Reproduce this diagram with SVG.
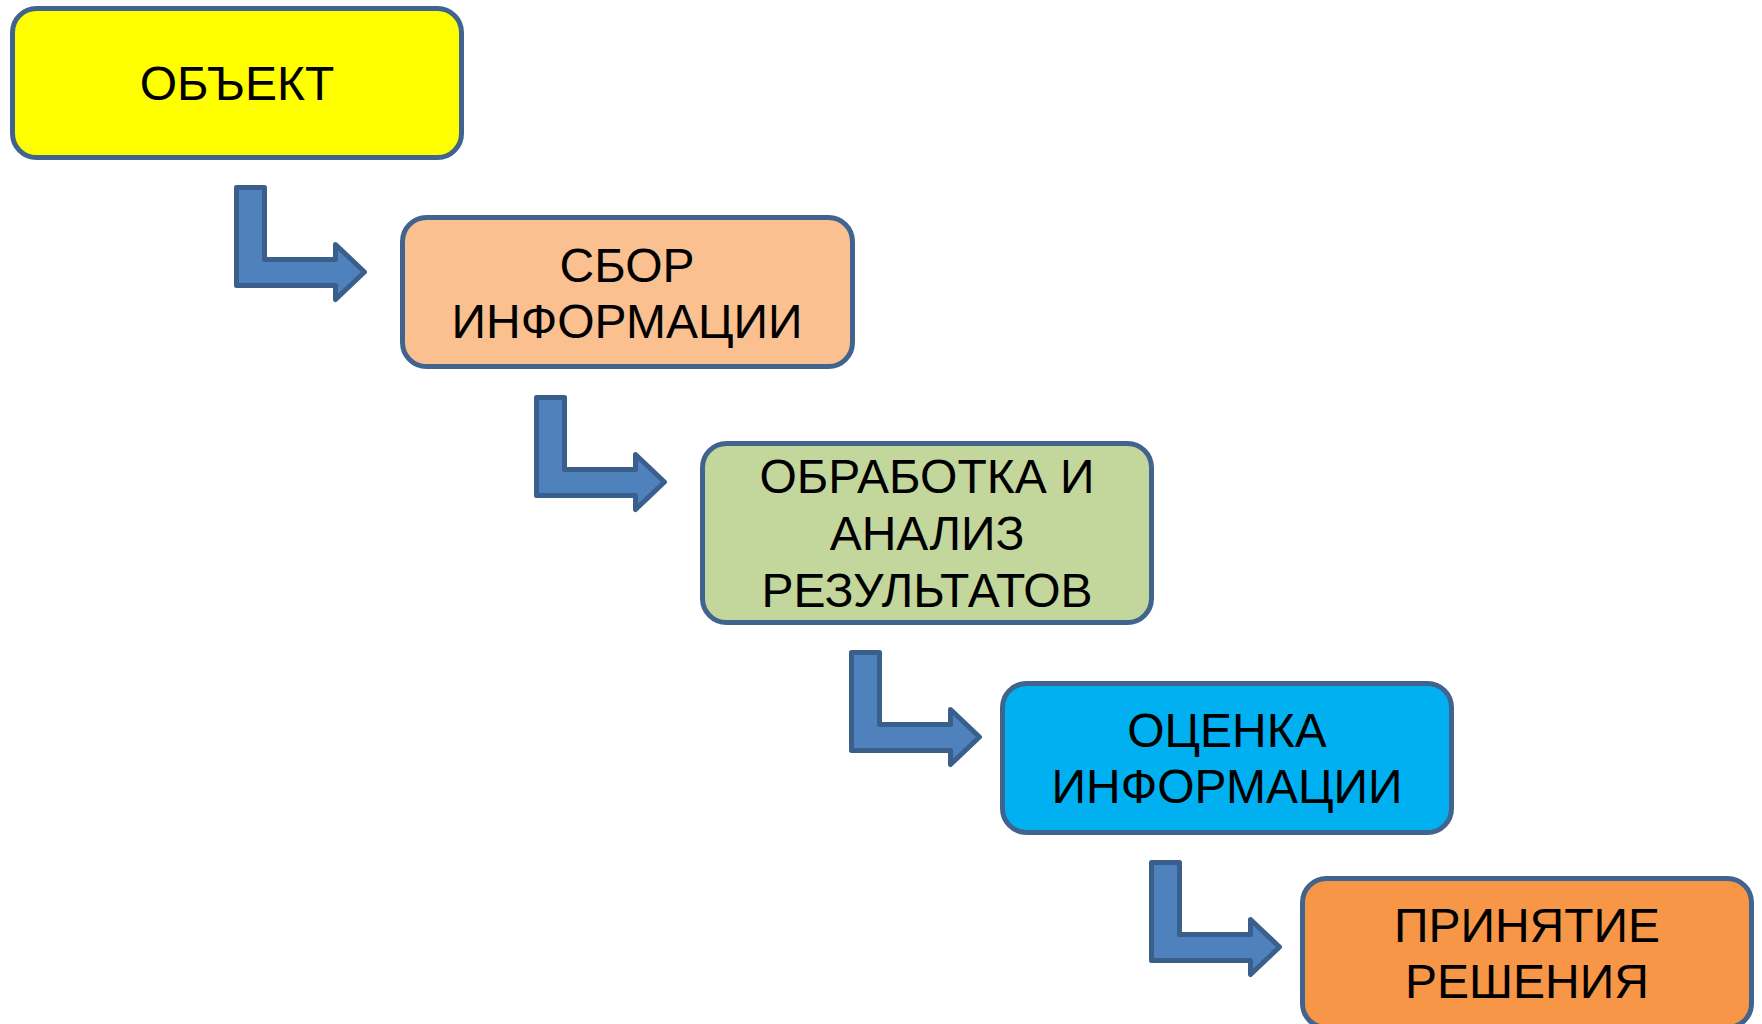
<svg xmlns="http://www.w3.org/2000/svg" width="1762" height="1024" viewBox="0 0 1762 1024">
<defs>
<style>
.box{stroke:#41648F;stroke-width:5}
.lbl{font-family:"Liberation Sans",Arial,sans-serif;font-size:48px;fill:#000;text-anchor:middle}
.arr{fill:#4F81BD;stroke:#3A5F8D;stroke-width:5;stroke-linejoin:round}
</style>
<path id="elbow" d="M2.5,2.5 H30.5 V74.5 H101.5 V59.5 L130.5,87 L101.5,114.5 V100.5 H2.5 Z"/>
</defs>
<rect width="1762" height="1024" fill="#fff"/>
<g id="connectors">
<use href="#elbow" class="arr" x="234" y="185"/>
<use href="#elbow" class="arr" x="534" y="395"/>
<use href="#elbow" class="arr" x="849" y="650"/>
<use href="#elbow" class="arr" x="1149" y="860"/>
</g>
<g id="n1">
<rect class="box" x="12.5" y="8.5" width="449" height="149" rx="24" fill="#FFFF00"/>
<text class="lbl" x="237" y="100">ОБЪЕКТ</text>
</g>
<g id="n2">
<rect class="box" x="402.5" y="217.5" width="450" height="149" rx="24" fill="#FAC090"/>
<text class="lbl" x="627" y="282">СБОР</text>
<text class="lbl" x="627" y="338">ИНФОРМАЦИИ</text>
</g>
<g id="n3">
<rect class="box" x="702.5" y="443.5" width="449" height="179" rx="24" fill="#C3D69B"/>
<text class="lbl" x="927" y="493">ОБРАБОТКА И</text>
<text class="lbl" x="927" y="550">АНАЛИЗ</text>
<text class="lbl" x="927" y="607">РЕЗУЛЬТАТОВ</text>
</g>
<g id="n4">
<rect class="box" x="1002.5" y="683.5" width="449" height="149" rx="24" fill="#00B0F0"/>
<text class="lbl" x="1227" y="747">ОЦЕНКА</text>
<text class="lbl" x="1227" y="803">ИНФОРМАЦИИ</text>
</g>
<g id="n5">
<rect class="box" x="1302.5" y="878.5" width="449" height="149" rx="24" fill="#F79646"/>
<text class="lbl" x="1527" y="942">ПРИНЯТИЕ</text>
<text class="lbl" x="1527" y="998">РЕШЕНИЯ</text>
</g>
</svg>
